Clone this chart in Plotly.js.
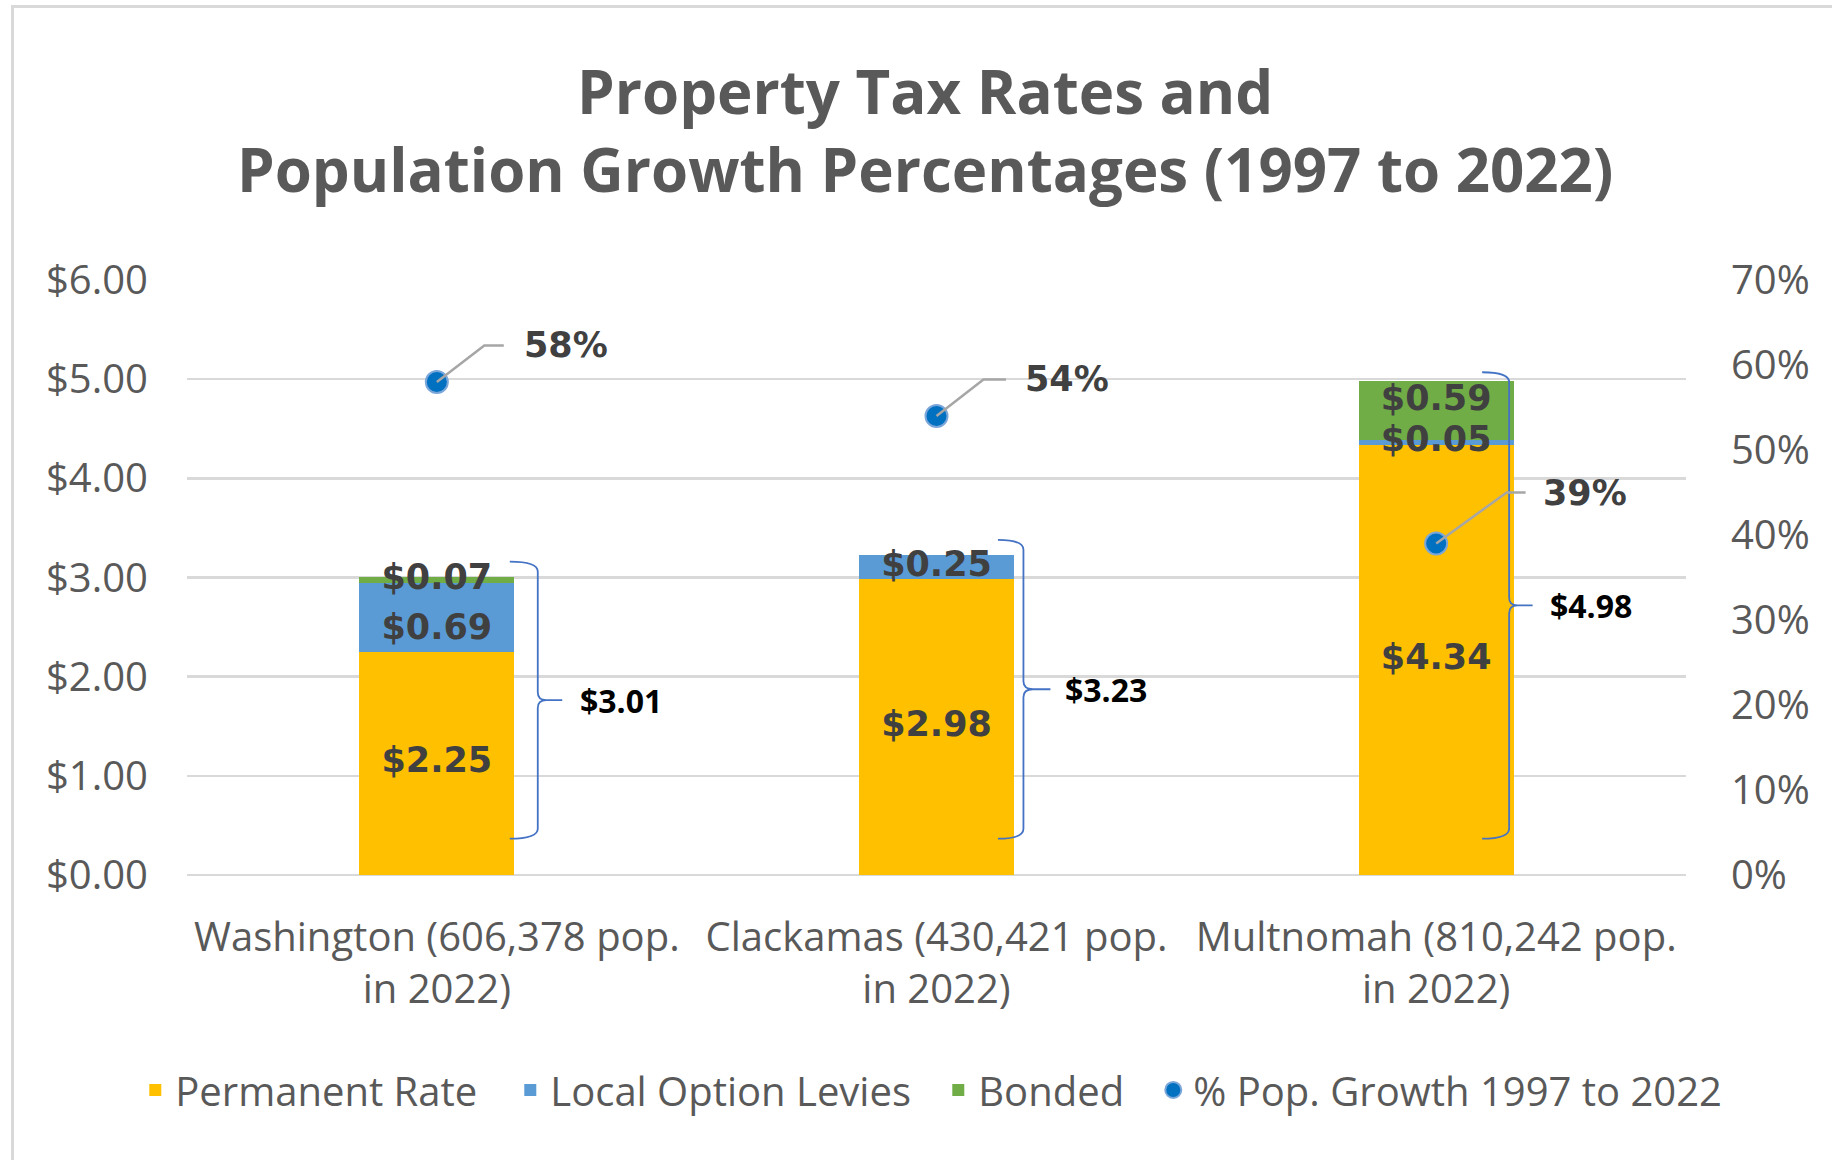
<!DOCTYPE html>
<html><head><meta charset="utf-8">
<script src="https://cdn.plot.ly/plotly-3.0.1.min.js"></script>
<style>
html,body{margin:0;padding:0;background:#fff;overflow:hidden;}
#frame{position:absolute;left:11px;top:5px;width:1830px;height:1160px;border-top:3px solid #d9d9d9;border-left:3px solid #d9d9d9;}
#chart{position:absolute;left:0;top:0;width:1832px;height:1160px;}
</style></head>
<body><div id="frame"></div><div id="chart"></div>
<script>
// ---- data ----
const categories = ["Washington (606,378 pop.<br>in 2022)", "Clackamas (430,421 pop.<br>in 2022)", "Multnomah (810,242 pop.<br>in 2022)"];
const permanentRate = [2.25, 2.98, 4.34];
const localOptionLevies = [0.69, 0.25, 0.05];
const bonded = [0.07, 0.00, 0.59];
const popGrowth = [0.58, 0.54, 0.39];
const seriesNames = ["Permanent Rate", "Local Option Levies", "Bonded", "% Pop. Growth 1997 to 2022"];
const leftTickVals = [0, 1, 2, 3, 4, 5, 6];
const rightTickVals = [0, 0.1, 0.2, 0.3, 0.4, 0.5, 0.6, 0.7];

// ---- styling / decoration placement ----
const colors = ["#FFC000", "#5B9BD5", "#70AD47", "#0070C0"];
const legendWidths = [330, 383, 170, 570];
// label nudges (y units) so crowded segment labels separate, as in the original
const labelNudge = [[0, -0.13, 0], [0, 0, 0], [0, 0, 0.09]];
const braceStyle = [
  {tip: 0.146, spine: 0.202, point: 0.251, label: 0.282, pad: 0.15},
  {tip: 0.123, spine: 0.174, point: 0.228, label: 0.254, pad: 0.15},
  {tip: 0.092, spine: 0.146, point: 0.193, label: 0.223, pad: 0.09}
];
const braceBottom = 0.366;
const leaderStyle = [
  {bend: 0.095, end: 0.134, text: 0.17, dy: 0.043},
  {bend: 0.094, end: 0.139, text: 0.174, dy: 0.043},
  {bend: 0.141, end: 0.179, text: 0.209, dy: 0.06}
];

const money = v => v > 0 ? "$" + v.toFixed(2) : "";
const labelFont = {family: "DejaVu Sans", size: 35, color: "#404040", weight: 700};

const stacks = [permanentRate, localOptionLevies, bonded];

function barTrace(k) {
  return {
    type: "bar", name: seriesNames[k], x: categories, y: stacks[k], width: 0.31,
    marker: {color: colors[k]}, legendwidth: legendWidths[k],
    hoverinfo: "skip"
  };
}

const traces = [barTrace(0), barTrace(1), barTrace(2)];

// segment value labels, drawn above all bars (as in the original)
const labX = [], labY = [], labT = [];
categories.forEach((c, i) => {
  let base = 0;
  stacks.forEach((s, k) => {
    if (s[i] > 0) { labX.push(c); labY.push(base + s[i] / 2 + labelNudge[i][k]); labT.push(money(s[i])); }
    base += s[i];
  });
});
traces.push({
  type: "scatter", mode: "text", x: labX, y: labY, text: labT, textposition: "middle center",
  textfont: labelFont, showlegend: false, hoverinfo: "skip", cliponaxis: false
});

traces.push({
  type: "scatter", mode: "markers", name: seriesNames[3], x: categories, y: popGrowth,
  yaxis: "y2", marker: {size: 22, color: colors[3], line: {color: "#7aa6da", width: 2}},
  legendwidth: legendWidths[3], hoverinfo: "skip"
});

const shapes = [];
const annotations = [];
categories.forEach((c, i) => {
  const total = permanentRate[i] + localOptionLevies[i] + bonded[i];
  const b = braceStyle[i];
  const xt = i + b.tip, xs = i + b.spine, xp = i + b.point;
  const top = total + b.pad, bot = braceBottom, mid = (top + bot) / 2;
  const cc = 0.1, m = 0.08, k = (xp - xs) * 0.35;
  shapes.push({
    type: "path", xref: "x", yref: "y", layer: "above",
    path: `M${xt},${top} Q${xs},${top} ${xs},${top - cc} L${xs},${mid + m} Q${xs},${mid} ${xs + k},${mid} L${xp},${mid} M${xs + k},${mid} Q${xs},${mid} ${xs},${mid - m} L${xs},${bot + cc} Q${xs},${bot} ${xt},${bot}`,
    line: {color: "#4472C4", width: 1.8}
  });
  annotations.push({
    xref: "x", yref: "y", x: i + b.label, y: mid, xanchor: "left", yanchor: "middle",
    text: "$" + total.toFixed(2), showarrow: false,
    font: {family: "Open Sans", size: 32, color: "#000000", weight: 700}
  });
  const L = leaderStyle[i], p = popGrowth[i];
  shapes.push({
    type: "path", xref: "x", yref: "y2", layer: "above",
    path: `M${i},${p} L${i + L.bend},${p + L.dy} L${i + L.end},${p + L.dy}`,
    line: {color: "#a6a6a6", width: 2.5}
  });
  annotations.push({
    xref: "x", yref: "y2", x: i + L.text, y: p + L.dy, xanchor: "left", yanchor: "middle",
    text: Math.round(p * 100) + "%", showarrow: false, font: labelFont
  });
});

const axisFont = {family: "Open Sans", size: 40, color: "#595959"};

const layout = {
  width: 1832, height: 1160,
  margin: {l: 187, r: 146, t: 280, b: 285, pad: 0, autoexpand: false},
  paper_bgcolor: "rgba(0,0,0,0)", plot_bgcolor: "rgba(0,0,0,0)",
  barmode: "stack", hovermode: false,
  title: {
    text: "Property Tax Rates and<br>Population Growth Percentages (1997 to 2022)",
    font: {family: "Open Sans", size: 60, color: "#595959", weight: 700},
    xref: "container", x: 0.505, xanchor: "center",
    yref: "container", y: 0.902, yanchor: "top"
  },
  xaxis: {
    type: "category", tickfont: axisFont, showgrid: false, showline: false, zeroline: false,
    ticks: "", ticklabelstandoff: 35
  },
  yaxis: {
    range: [0, 6], tickmode: "array", tickvals: leftTickVals,
    ticktext: leftTickVals.map(v => "$" + v.toFixed(2)),
    tickfont: axisFont, showgrid: true, gridcolor: "#d9d9d9", gridwidth: 2.5,
    zeroline: true, zerolinecolor: "#d9d9d9", zerolinewidth: 2.5,
    showline: false, ticks: "", ticklabelstandoff: 38, fixedrange: true
  },
  yaxis2: {
    overlaying: "y", side: "right", range: [0, 0.7], tickvals: rightTickVals, tickformat: ".0%",
    tickfont: axisFont, showgrid: false, zeroline: false, showline: false, ticks: "",
    ticklabelstandoff: 44, fixedrange: true
  },
  legend: {
    orientation: "h", xref: "paper", x: -0.0345, xanchor: "left",
    yref: "paper", y: -0.3613, yanchor: "middle",
    font: axisFont, traceorder: "normal", itemwidth: 30, bgcolor: "rgba(0,0,0,0)"
  },
  shapes: shapes,
  annotations: annotations
};

Plotly.newPlot("chart", traces, layout, {displayModeBar: false, staticPlot: true});
</script>
</body></html>
